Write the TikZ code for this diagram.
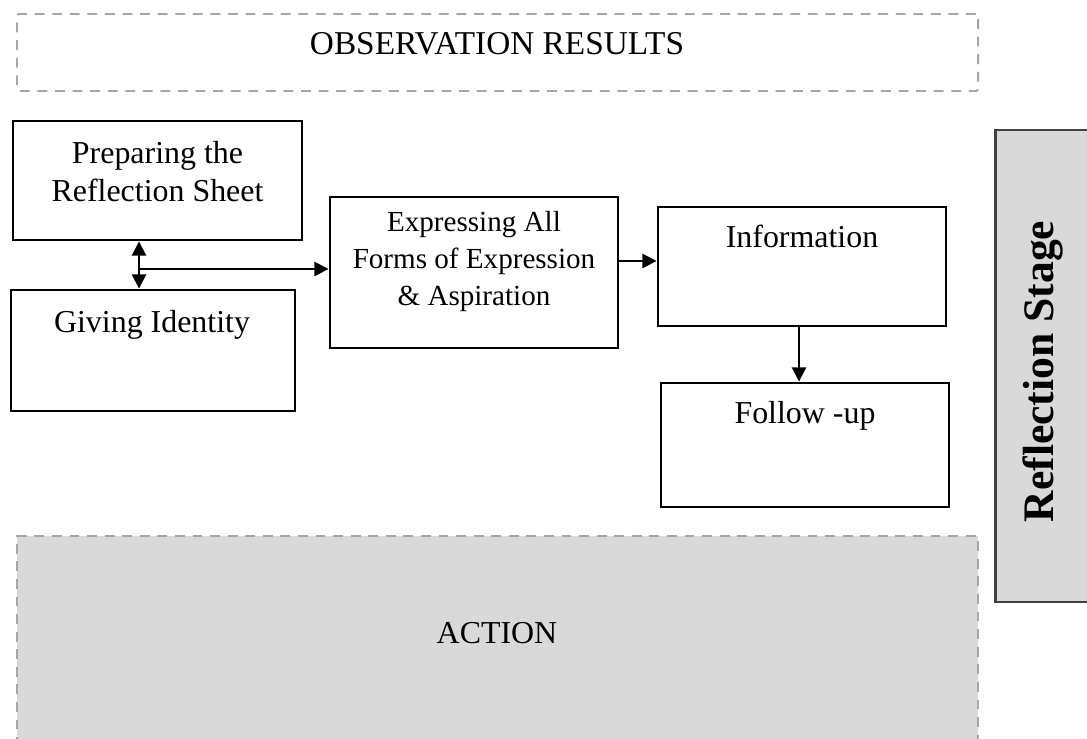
\documentclass[tikz,border=0pt]{standalone}
\usepackage{fontspec}
\setmainfont{Liberation Serif}
\usepackage{tikz}
\usetikzlibrary{arrows.meta,positioning,calc}
\definecolor{dashgray}{HTML}{A6A6A6}
\definecolor{panelfill}{HTML}{D9D9D9}
\definecolor{paneledge}{HTML}{404040}

\begin{document}
\begin{tikzpicture}[>={Triangle[length=10pt,width=10pt]},
  stepbox/.style={draw=black, line width=2.1pt, fill=white, inner sep=0pt},
  dashbox/.style={draw=dashgray, line width=1.4pt, dash pattern=on 7pt off 5.5pt,
                  rounded corners=1.5pt, inner sep=0pt},
  txt/.style={inner sep=0pt, font=\fontsize{22.7}{27}\selectfont, align=center},
  link/.style={->, line width=1.4pt}]
  \clip (0,0) rectangle (27.175,-18.45);
  % boxes
  \node[dashbox, minimum width=24.025cm, minimum height=1.925cm] (obs) at (12.4375,-1.3125) {};
  \node[dashbox, fill=panelfill, rounded corners=0pt, minimum width=24.025cm, minimum height=5.35cm] (act) at (12.4375,-16.075) {};
  \node[draw=paneledge, fill=panelfill, line width=2pt, minimum width=2.625cm, minimum height=11.8cm] (stage) at (26.2,-9.15) {};
  \node[stepbox, minimum width=7.225cm, minimum height=2.975cm] (prep) at (3.9375,-4.5125) {};
  \node[stepbox, minimum width=7.1cm, minimum height=3.025cm] (give) at (3.825,-8.7625) {};
  \node[stepbox, minimum width=7.2cm, minimum height=3.775cm] (expr) at (11.85,-6.8125) {};
  \node[stepbox, minimum width=7.2cm, minimum height=2.975cm] (info) at (20.05,-6.6625) {};
  \node[stepbox, minimum width=7.2cm, minimum height=3.1cm] (follow) at (20.125,-11.125) {};
  % texts
  \node[txt, anchor=base, font=\fontsize{23.7}{28}\selectfont] (obstxt) at (12.425,-1.375) {OBSERVATION RESULTS};
  \node[txt] (preptxt) at (3.9375,-4.2875) {Preparing the\\Reflection Sheet};
  \node[txt, anchor=base] (givetxt) at (3.8,-8.3) {Giving Identity};
  \node[txt, font=\fontsize{20.7}{26}\selectfont] (exprtxt) at (11.85,-6.5375) {Expressing All\\Forms of Expression\\\& Aspiration};
  \node[txt, anchor=base] (infotxt) at (20.05,-6.175) {Information};
  \node[txt, anchor=base] (followtxt) at (20.125,-10.575) {Follow -up};
  \node[txt, anchor=base] (acttxt) at (12.425,-16.075) {ACTION};
  \node[txt, anchor=base, rotate=90, font=\fontsize{31}{36}\bfseries] (stagetxt) at (26.325,-9.2875) {Reflection Stage};
  % connectors
  \coordinate (j) at (3.475,-6.725);
  \coordinate (k) at (16,-6.525);
  \coordinate (m) at (19.975,-8.5);
  \draw[link, <->] (j |- prep.south) -- (j |- give.north);
  \draw[link] (j) -- (j -| expr.west);
  \draw[link] (k -| expr.east) -- (k -| info.west);
  \draw[link] (m |- info.south) -- (m |- follow.north);
\end{tikzpicture}
\end{document}
